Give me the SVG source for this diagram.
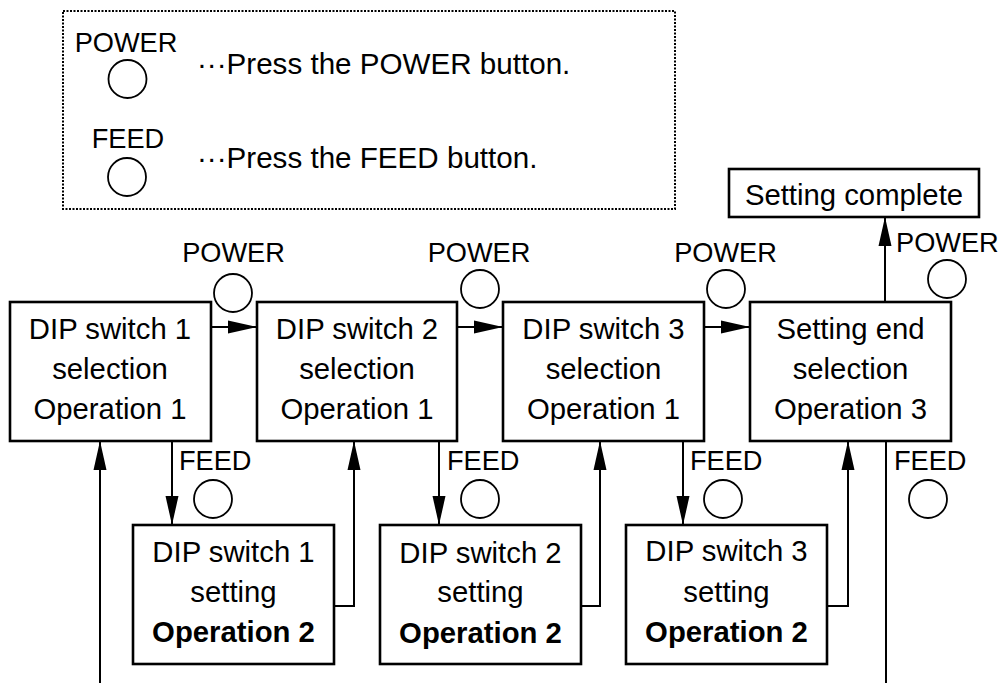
<svg xmlns="http://www.w3.org/2000/svg" width="1000" height="683" viewBox="0 0 1000 683">
<defs>
<style>
text{font-family:"Liberation Sans",Arial,sans-serif;fill:#000}
.t{font-size:29.3px;text-anchor:middle}
.lg{font-size:29.6px}
.b{font-weight:bold}
.l{font-size:27.2px}
.box{fill:#fff;stroke:#000;stroke-width:2.6}
.btn{fill:#fff;stroke:#000;stroke-width:1.8}
.c{fill:none;stroke:#000;stroke-width:2}
.a{marker-end:url(#ah)}
</style>
<marker id="ah" markerUnits="userSpaceOnUse" markerWidth="30" markerHeight="14" viewBox="0 0 30 14" refX="29" refY="7" orient="auto">
<path d="M0,0.5 L29,7 L0,13.5 Z" fill="#000"/>
</marker>
</defs>
<rect width="1000" height="683" fill="#fff"/>

<g id="legend">
<rect x="63" y="11" width="612" height="198" fill="none" stroke="#000" stroke-width="2" stroke-dasharray="2 1.5"/>
<text class="l" x="126" y="52" text-anchor="middle">POWER</text>
<circle class="btn" cx="127.5" cy="79" r="19"/>
<text class="lg" x="197" y="74">···Press the POWER button.</text>
<text class="l" x="128" y="148" text-anchor="middle">FEED</text>
<circle class="btn" cx="127" cy="177" r="19"/>
<text class="lg" x="197" y="168">···Press the FEED button.</text>
</g>

<g id="connectors">
<line class="c a" x1="211" y1="327" x2="257" y2="327"/>
<line class="c a" x1="457" y1="327" x2="503" y2="327"/>
<line class="c a" x1="704" y1="327" x2="750" y2="327"/>
<line class="c a" x1="885" y1="302" x2="885" y2="217"/>
<line class="c a" x1="172" y1="441" x2="172" y2="525"/>
<line class="c a" x1="439" y1="441" x2="439" y2="525"/>
<line class="c a" x1="683" y1="441" x2="683" y2="525"/>
<polyline class="c a" points="334,606 354,606 354,441"/>
<polyline class="c a" points="581,606 600,606 600,441"/>
<polyline class="c a" points="827,606 848,606 848,441"/>
<line class="c a" x1="100" y1="683" x2="100" y2="441"/>
<line class="c" x1="886" y1="441" x2="886" y2="683"/>
</g>

<g id="buttons">
<text class="l" x="233.5" y="262" text-anchor="middle">POWER</text>
<circle class="btn" cx="233" cy="293" r="19"/>
<text class="l" x="479" y="262" text-anchor="middle">POWER</text>
<circle class="btn" cx="480" cy="289" r="19"/>
<text class="l" x="725.5" y="262" text-anchor="middle">POWER</text>
<circle class="btn" cx="726" cy="289" r="19"/>
<text class="l" x="896" y="252">POWER</text>
<circle class="btn" cx="947" cy="279" r="19"/>
<text class="l" x="179" y="470">FEED</text>
<circle class="btn" cx="213" cy="499" r="19"/>
<text class="l" x="447" y="470">FEED</text>
<circle class="btn" cx="480" cy="499" r="19"/>
<text class="l" x="690" y="470">FEED</text>
<circle class="btn" cx="723" cy="499" r="19"/>
<text class="l" x="894" y="470">FEED</text>
<circle class="btn" cx="928" cy="499" r="19"/>
</g>

<g id="sel1">
<rect class="box" x="10" y="302" width="201" height="139"/>
<text class="t" x="110" y="339">DIP switch 1</text>
<text class="t" x="110" y="379">selection</text>
<text class="t" x="110" y="419">Operation 1</text>
</g>
<g id="sel2">
<rect class="box" x="257" y="302" width="200" height="139"/>
<text class="t" x="357" y="339">DIP switch 2</text>
<text class="t" x="357" y="379">selection</text>
<text class="t" x="357" y="419">Operation 1</text>
</g>
<g id="sel3">
<rect class="box" x="503" y="302" width="201" height="139"/>
<text class="t" x="603.5" y="339">DIP switch 3</text>
<text class="t" x="603.5" y="379">selection</text>
<text class="t" x="603.5" y="419">Operation 1</text>
</g>
<g id="selend">
<rect class="box" x="750" y="302" width="201" height="139"/>
<text class="t" x="850.5" y="339">Setting end</text>
<text class="t" x="850.5" y="379">selection</text>
<text class="t" x="850.5" y="419">Operation 3</text>
</g>
<g id="complete">
<rect class="box" x="729" y="169" width="250" height="48"/>
<text class="t" x="854" y="205">Setting complete</text>
</g>
<g id="set1">
<rect class="box" x="133" y="525" width="201" height="139"/>
<text class="t" x="233.5" y="562">DIP switch 1</text>
<text class="t" x="233.5" y="602">setting</text>
<text class="t b" x="233.5" y="642">Operation 2</text>
</g>
<g id="set2">
<rect class="box" x="380" y="525" width="201" height="139"/>
<text class="t" x="480.5" y="563">DIP switch 2</text>
<text class="t" x="480.5" y="602">setting</text>
<text class="t b" x="480.5" y="643">Operation 2</text>
</g>
<g id="set3">
<rect class="box" x="626" y="525" width="201" height="139"/>
<text class="t" x="726.5" y="561">DIP switch 3</text>
<text class="t" x="726.5" y="602">setting</text>
<text class="t b" x="726.5" y="642">Operation 2</text>
</g>
</svg>
